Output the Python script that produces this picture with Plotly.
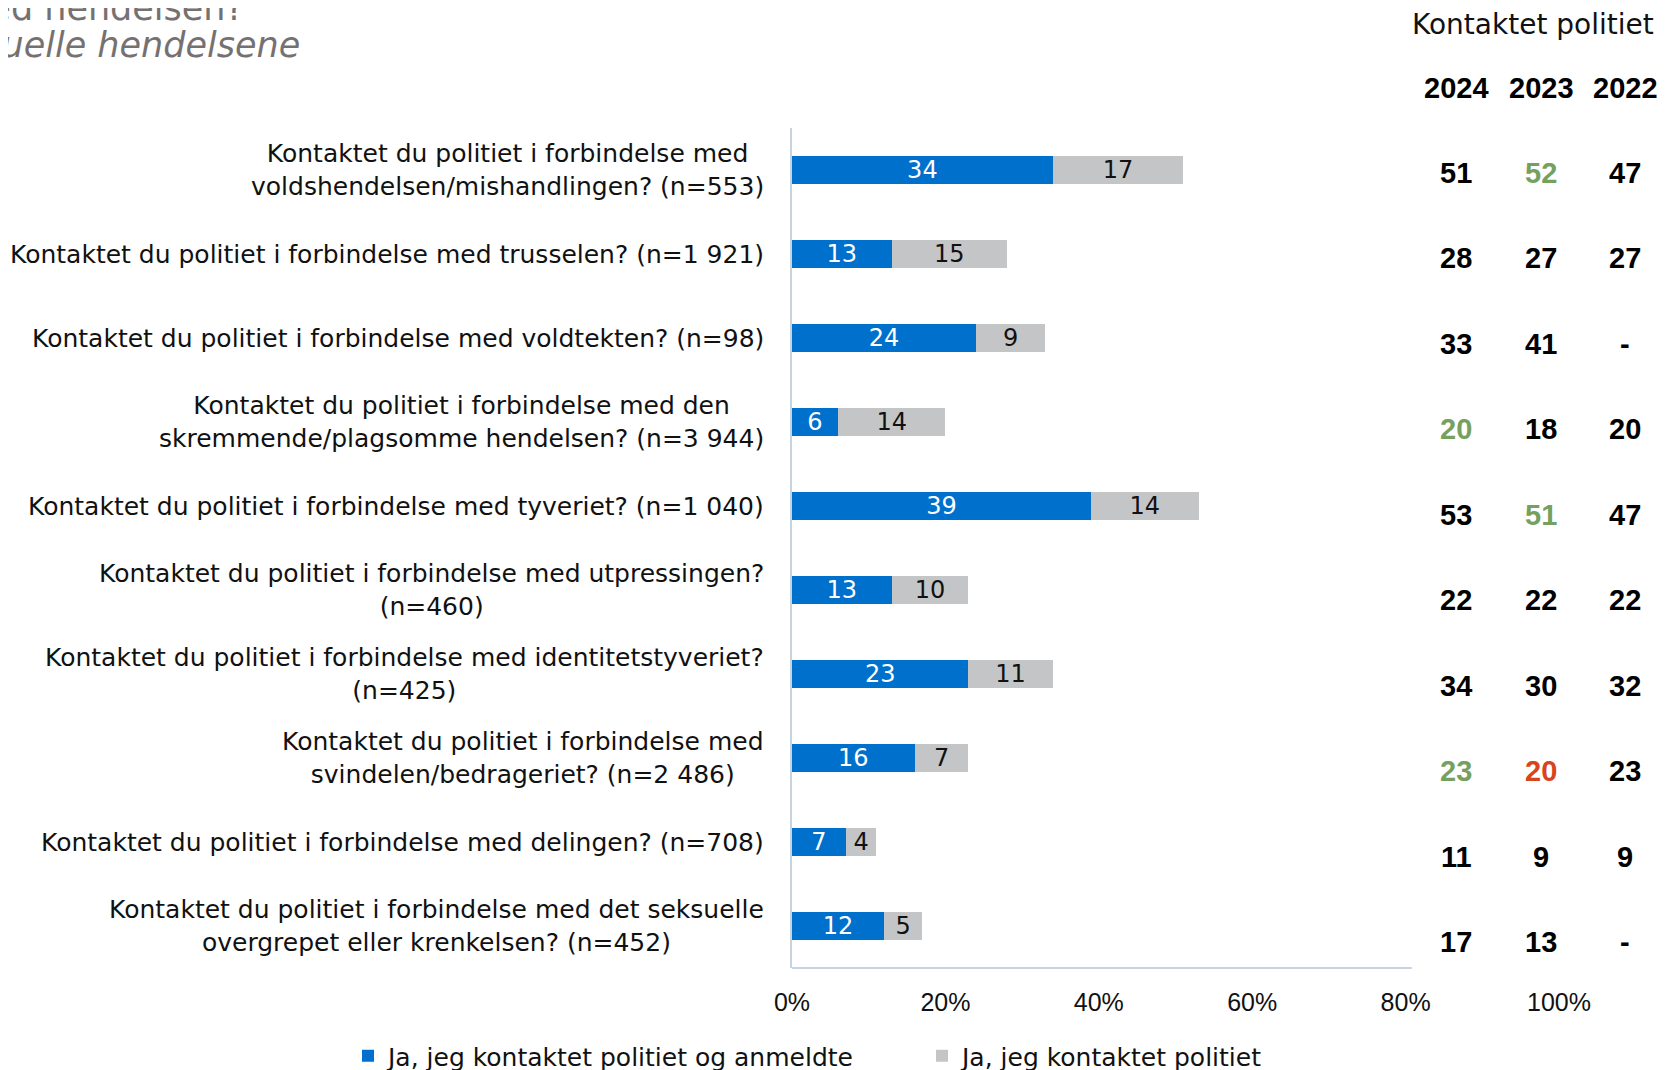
import plotly.graph_objects as go

# ---------------- data ----------------
questions = [
    "Kontaktet du politiet i forbindelse med<br>voldshendelsen/mishandlingen? (n=553)",
    "Kontaktet du politiet i forbindelse med trusselen? (n=1 921)",
    "Kontaktet du politiet i forbindelse med voldtekten? (n=98)",
    "Kontaktet du politiet i forbindelse med den<br>skremmende/plagsomme hendelsen? (n=3 944)",
    "Kontaktet du politiet i forbindelse med tyveriet? (n=1 040)",
    "Kontaktet du politiet i forbindelse med utpressingen?<br>(n=460)",
    "Kontaktet du politiet i forbindelse med identitetstyveriet?<br>(n=425)",
    "Kontaktet du politiet i forbindelse med<br>svindelen/bedrageriet? (n=2 486)",
    "Kontaktet du politiet i forbindelse med delingen? (n=708)",
    "Kontaktet du politiet i forbindelse med det seksuelle<br>overgrepet eller krenkelsen? (n=452)",
]
anmeldte = [34, 13, 24, 6, 39, 13, 23, 16, 7, 12]
kontaktet = [17, 15, 9, 14, 14, 10, 11, 7, 4, 5]

years = ["2024", "2023", "2022"]
tot_2024 = ["51", "28", "33", "20", "53", "22", "34", "23", "11", "17"]
tot_2023 = ["52", "27", "41", "18", "51", "22", "30", "20", "9", "13"]
tot_2022 = ["47", "27", "-", "20", "47", "22", "32", "23", "9", "-"]
# colour flags: g = green, r = red, k = black
flag_2024 = ["k", "k", "k", "g", "k", "k", "k", "g", "k", "k"]
flag_2023 = ["g", "k", "k", "k", "g", "k", "k", "r", "k", "k"]
flag_2022 = ["k"] * 10

series_names = ["Ja, jeg kontaktet politiet og anmeldte", "Ja, jeg kontaktet politiet"]
x_ticks = [0, 20, 40, 60, 80, 100]

title_line1 = "Kontaktet du politiet i forbindelse med hendelsen?"
title_line2 = "Gjelder de seksuelle hendelsene"
table_title = "Kontaktet politiet"

# ---------------- styling / layout ----------------
W, H = 1678, 1070
OFF = 8  # page body margin
ML, MT = 784, 120
MR, MB = 127, 110
PW, PH = W - ML - MR, H - MT - MB

BLUE = "#0070CD"
GREY = "#C4C5C7"
AXIS = "#C5D3E3"
FLAGC = {"k": "#000000", "g": "#76A05E", "r": "#D8441E"}
LABEL_FONT = "DejaVu Sans, Open Sans, sans-serif"
NUM_FONT = "Liberation Sans, Arial, sans-serif"


def px(x):
    return (x - OFF - ML) / PW


def py(y):
    return (H - MB - (y - OFF)) / PH


cats = list(range(len(questions)))

fig = go.Figure()
fig.add_trace(go.Bar(
    y=cats, x=anmeldte, orientation="h", name=series_names[0],
    marker=dict(color=BLUE, line=dict(width=0)),
    text=anmeldte, textposition="inside", insidetextanchor="middle",
    textfont=dict(color="white", size=24, family=LABEL_FONT),
    textangle=0, constraintext="none",
))
fig.add_trace(go.Bar(
    y=cats, x=kontaktet, orientation="h", name=series_names[1],
    marker=dict(color=GREY, line=dict(width=0)),
    text=kontaktet, textposition="inside", insidetextanchor="middle",
    textfont=dict(color="#111111", size=24, family=LABEL_FONT),
    textangle=0, constraintext="none",
))

annotations = []
for i, q in enumerate(questions):
    annotations.append(dict(
        x=px(766), xref="paper", y=i, yref="y", text=q, showarrow=False,
        xanchor="right", yanchor="middle", align="center",
        font=dict(family=LABEL_FONT, size=25, color="#111111"),
    ))

col_x = [1456, 1541, 1625]
row_y0, row_dy = 172.5, 85.5
for c, (yr, vals, flags) in enumerate(zip(years, [tot_2024, tot_2023, tot_2022],
                                          [flag_2024, flag_2023, flag_2022])):
    annotations.append(dict(
        x=px(col_x[c]), xref="paper", y=py(88), yref="paper", text="<b>%s</b>" % yr,
        showarrow=False, xanchor="center", yanchor="middle",
        font=dict(family=NUM_FONT, size=29, color="#000000"),
    ))
    for r, (v, f) in enumerate(zip(vals, flags)):
        annotations.append(dict(
            x=px(col_x[c]), xref="paper", y=py(row_y0 + r * row_dy), yref="paper",
            text="<b>%s</b>" % v, showarrow=False, xanchor="center", yanchor="middle",
            font=dict(family=NUM_FONT, size=29, color=FLAGC[f]),
        ))

annotations.append(dict(
    x=px(1410), xref="paper", y=py(24), yref="paper", text=table_title,
    showarrow=False, xanchor="left", yanchor="middle",
    font=dict(family=LABEL_FONT, size=28, color="#111111"),
))

annotations.append(dict(
    x=px(246), xref="paper", y=py(8), yref="paper", text=title_line1,
    showarrow=False, xanchor="right", yanchor="middle",
    font=dict(family=LABEL_FONT, size=35, color="#767171"),
))
annotations.append(dict(
    x=px(302), xref="paper", y=py(45), yref="paper", text="<i>%s</i>" % title_line2,
    showarrow=False, xanchor="right", yanchor="middle",
    font=dict(family=LABEL_FONT, size=35, color="#767171"),
))

fig.update_layout(
    width=W, height=H,
    margin=dict(l=ML, r=MR, t=MT, b=MB, pad=0, autoexpand=False),
    paper_bgcolor="white", plot_bgcolor="white",
    barmode="stack", bargap=0.675,
    showlegend=True,
    legend=dict(
        orientation="h", x=px(348), xanchor="left", y=py(1056), yanchor="middle",
        font=dict(family=LABEL_FONT, size=25, color="#111111"),
        itemwidth=30, entrywidth=529, entrywidthmode="pixels",
        traceorder="normal", bgcolor="rgba(0,0,0,0)",
    ),
    annotations=annotations,
    shapes=[dict(type="line", xref="x", yref="paper", x0=0, x1=80.8, y0=0, y1=0,
                 line=dict(color=AXIS, width=2))],
    xaxis=dict(
        range=[0, 100], tickvals=x_ticks, ticktext=["%d%%" % t for t in x_ticks],
        showgrid=False, zeroline=False, showline=False, ticks="",
        tickfont=dict(family="Liberation Sans Narrow, Liberation Sans, sans-serif", size=25, color="#111111"),
        ticklabelstandoff=17, fixedrange=True,
    ),
    yaxis=dict(
        range=[len(questions) - 0.5, -0.5], tickvals=cats, showticklabels=False,
        showgrid=False, zeroline=False, showline=True, linecolor=AXIS, linewidth=2,
        ticks="", fixedrange=True,
    ),
)

fig.write_html("out.html")
